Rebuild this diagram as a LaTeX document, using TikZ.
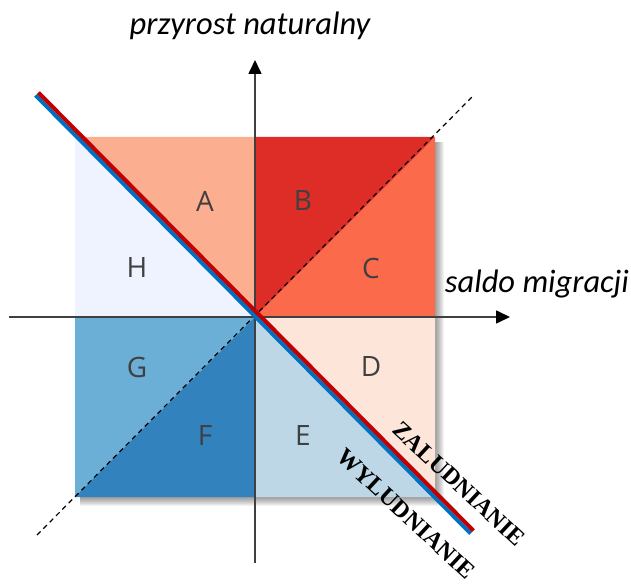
\documentclass[tikz,border=0pt]{standalone}
\usepackage{fontspec}
\usepackage{tikz}
\usetikzlibrary{arrows.meta,calc}
\newfontfamily\axisfont{Carlito}
\newfontfamily\letterfont{Open Sans}
\newfontfamily\bandfont{Liberation Serif}
\definecolor{colA}{HTML}{FCAE91}
\definecolor{colB}{HTML}{DE2D26}
\definecolor{colC}{HTML}{FB6A4A}
\definecolor{colD}{HTML}{FEE5D9}
\definecolor{colE}{HTML}{BDD7E7}
\definecolor{colF}{HTML}{3182BD}
\definecolor{colG}{HTML}{6BAED6}
\definecolor{colH}{HTML}{EFF3FF}
\definecolor{zalcol}{HTML}{C00000}
\definecolor{wylcol}{HTML}{0070C0}
\definecolor{axiscol}{HTML}{404040}

\begin{document}
\begin{tikzpicture}[x=1pt, y=-1pt,
  axis/.style={axiscol, line width=1.6pt, -{Triangle[length=14pt, width=13pt, color=black]}},
  letter/.style={text=axiscol, font=\letterfont\fontsize{28}{30}\selectfont},
  axislabel/.style={font=\axisfont\itshape\fontsize{32.5}{35}\selectfont},
  bandlabel/.style={font=\bandfont\bfseries\fontsize{24}{26}\selectfont, rotate=-43, inner sep=1pt}]
\useasboundingbox (0,0) rectangle (631,585);

% square corners and centre
\coordinate (tl) at (75,137);
\coordinate (tm) at (255,137);
\coordinate (tr) at (435,137);
\coordinate (ml) at (75,317);
\coordinate (o) at (255,317);
\coordinate (mr) at (435,317);
\coordinate (bl) at (75,497);
\coordinate (bm) at (255,497);
\coordinate (br) at (435,497);

% shadow
\foreach \d in {1,...,9}
  \fill[black, opacity=0.05] (80,142) rectangle ($(br)+(\d,\d)$);

\fill[colA] (tl) -- (tm) -- (o) -- cycle;
\fill[colH] (tl) -- (o) -- (ml) -- cycle;
\fill[colB] (tm) -- (tr) -- (o) -- cycle;
\fill[colC] (o) -- (tr) -- (mr) -- cycle;
\fill[colD] (o) -- (mr) -- (br) -- cycle;
\fill[colE] (o) -- (br) -- (bm) -- cycle;
\fill[colG] (ml) -- (o) -- (bl) -- cycle;
\fill[colF] (o) -- (bm) -- (bl) -- cycle;

% diagonal
\coordinate (dstart) at (37,535);
\coordinate (dend) at (474,95);
\draw[black, line width=1.2pt, dash pattern=on 5pt off 4pt] (dstart) -- (dend);

% axes
\coordinate (xstart) at (9,317);
\coordinate (xend) at (510,317);
\coordinate (ystart) at (255,563);
\coordinate (yend) at (255,60);
\draw[axis] (xstart) -- (xend);
\draw[axis] (ystart) -- (yend);

% boundary line
\coordinate (lstart) at (37,94);
\coordinate (lend) at (472,532);
\draw[wylcol, line width=4pt] ($(lstart)+(-1.4,1.4)$) -- ($(lend)+(-1.4,1.4)$);
\draw[zalcol, line width=4pt] ($(lstart)+(1.4,-1.4)$) -- ($(lend)+(1.4,-1.4)$);

\node[letter] (labA) at (205,201) {A};
\node[letter] (labB) at (303,201) {B};
\node[letter] (labC) at (371,268) {C};
\node[letter] (labD) at (371,367) {D};
\node[letter] (labE) at (303,436) {E};
\node[letter] (labF) at (205,436) {F};
\node[letter] (labG) at (137,367) {G};
\node[letter] (labH) at (137,268) {H};

\node[axislabel] (ylab) at (250,26) {przyrost naturalny};
\node[axislabel] (xlab) at (537,284) {saldo migracji};

\node[bandlabel] (zal) at (459,484) {ZALUDNIANIE};
\node[bandlabel] (wyl) at (406,514) {WYLUDNIANIE};
\end{tikzpicture}
\end{document}
